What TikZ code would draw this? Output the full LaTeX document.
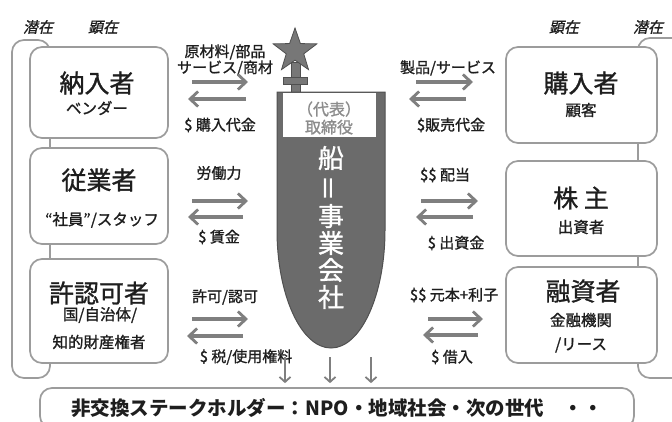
\documentclass[tikz,border=0pt]{standalone}
\usepackage{fontspec}
\newfontfamily\jp[FakeBold=1.2]{Noto Sans CJK JP}
\newfontfamily\jpplain{Noto Sans CJK JP}
\newfontfamily\jpslant[FakeSlant=0.22, FakeBold=0.8]{Noto Sans CJK JP}
\usetikzlibrary{arrows.meta, shapes.geometric, positioning}

\definecolor{ink}{HTML}{1E1E1E}
\definecolor{linegray}{HTML}{9C9C9C}
\definecolor{arrowgray}{HTML}{7F7F7F}
\definecolor{hull}{HTML}{6B6B6B}
\definecolor{hulledge}{HTML}{505050}
\definecolor{mastgray}{HTML}{777777}
\definecolor{boardgray}{HTML}{8C8C8C}

\begin{document}
\begin{tikzpicture}[x=1pt, y=-1pt,
  every node/.style={font=\jp, text=ink, inner sep=0pt},
  frame/.style={draw=linegray, line width=1.7pt, rounded corners=12pt},
  party/.style={frame, fill=white},
  title/.style={font=\jp\fontsize{25}{26}\selectfont},
  sub/.style={font=\jp\fontsize{15.5}{16}\selectfont},
  deal/.style={font=\jp\fontsize{15}{16}\selectfont},
  tag/.style={font=\jpslant\fontsize{15}{16}\selectfont},
  glyph/.style={font=\jp\fontsize{26}{27}\selectfont, text=white},
  flow/.style={draw=arrowgray, line width=3.2pt,
    -{Straight Barb[length=8pt, width=15pt, line width=2.8pt]}},
  drop/.style={draw=arrowgray, line width=2pt, shorten >=4pt,
    -{Straight Barb[length=5pt, width=11pt, line width=1.8pt]}}]
\useasboundingbox (0,0) rectangle (672,421);
\clip (0,0) rectangle (672,421);

% Latent brackets behind the boxes
\node[frame, minimum width=38, minimum height=338] (latentL) at (31,209) {};
\node[frame, minimum width=62, minimum height=340] (latentR) at (669,208) {};
\node[tag] (latL) at (38,27) {潜在};
\node[tag] (manL) at (103,27) {顕在};
\node[tag] (manR) at (564,27) {顕在};
\node[tag] (latR) at (648,27) {潜在};

% Stakeholder boxes, left
\node[party, minimum width=138, minimum height=91] (vendor) at (99,92.5) {};
\node[party, minimum width=138, minimum height=96] (staff) at (99,196) {};
\node[party, minimum width=138, minimum height=104] (licensor) at (99,311) {};
\node[title] (vendorT) at (97,83) {納入者};
\node[sub] (vendorS) at (97,108) {ベンダー};
\node[title] (staffT) at (99,180) {従業者};
\node[sub] (staffS) at (102,220) {“社員”/スタッフ};
\node[title] (licT) at (99,293) {許認可者};
\node[sub] (licS1) at (100,315) {国/自治体/};
\node[sub] (licS2) at (99,342) {知的財産権者};

% Stakeholder boxes, right
\node[party, minimum width=151, minimum height=96] (buyer) at (581.5,95) {};
\node[party, minimum width=151, minimum height=95] (holder) at (581.5,208.5) {};
\node[party, minimum width=151, minimum height=96] (lender) at (581.5,315) {};
\node[title] (buyerT) at (581,83) {購入者};
\node[sub] (buyerS) at (581,110) {顧客};
\node[title] (holderT) at (581,198) {株 主};
\node[sub] (holderS) at (581,227) {出資者};
\node[title] (lenderT) at (583,291) {融資者};
\node[sub] (lenderS1) at (581,320) {金融機関};
\node[sub] (lenderS2) at (581,345) {/リース};

% The ship: mast, flag star, hull
\draw[fill=mastgray, draw=hulledge, line width=0.8pt] (291,62) rectangle (300,93);
\draw[fill=mastgray, draw=hulledge, line width=0.8pt] (283,77) rectangle (307,84);
\node[star, star points=5, star point ratio=2.5, minimum size=46pt,
  fill=mastgray, draw=hulledge, line width=0.8pt] (flag) at (295,51) {};
\draw[fill=hull, draw=hulledge, line width=1pt] (277,92) -- (385,92) -- (385,230)
  arc[start angle=0, end angle=180, x radius=54, y radius=118] -- cycle;
\node[fill=white, minimum width=93, minimum height=44] (board) at (329,115) {};
\node[font=\jp\fontsize{16}{18}\selectfont, text=boardgray, align=center] (boardT)
  at (329,118) {（代表）\\取締役};

% Company name, written top to bottom
\node[glyph] (c1) at (331,158) {船};
\node[glyph] (c2) at (331,188) {\rotatebox[origin=c]{90}{＝}};
\node[glyph] (c3) at (331,216) {事};
\node[glyph] (c4) at (331,243) {業};
\node[glyph] (c5) at (331,270) {会};
\node[glyph] (c6) at (331,297) {社};

% Exchanges on the left
\node[deal, align=center] (goodsL) at (225,60) {原材料/部品\\サービス/商材};
\node[deal] (payL) at (220,125) {\$ 購入代金};
\node[deal] (labour) at (219,173) {労働力};
\node[deal] (wage) at (219,237) {\$ 賃金};
\node[deal] (permit) at (225,297) {許可/認可};
\node[deal] (tax) at (246,357) {\$ 税/使用権料};
\coordinate (l1a) at (192,82);  \coordinate (l1b) at (248,82);
\coordinate (l2a) at (246,99);  \coordinate (l2b) at (188,99);
\coordinate (l3a) at (192,201); \coordinate (l3b) at (248,201);
\coordinate (l4a) at (243,217); \coordinate (l4b) at (188,217);
\coordinate (l5a) at (192,319); \coordinate (l5b) at (248,319);
\coordinate (l6a) at (243,336); \coordinate (l6b) at (187,336);
\draw[flow] (l1a) -- (l1b);
\draw[flow] (l2a) -- (l2b);
\draw[flow] (l3a) -- (l3b);
\draw[flow] (l4a) -- (l4b);
\draw[flow] (l5a) -- (l5b);
\draw[flow] (l6a) -- (l6b);

% Exchanges on the right
\node[deal] (goodsR) at (448,68) {製品/サービス};
\node[deal] (payR) at (451,125) {\$販売代金};
\node[deal] (dividend) at (445,175) {\$\$ 配当};
\node[deal] (equity) at (456,243) {\$ 出資金};
\node[deal] (interest) at (454,295) {\$\$ 元本+利子};
\node[deal] (loan) at (452,357) {\$ 借入};
\coordinate (r1a) at (416,82);  \coordinate (r1b) at (473,82);
\coordinate (r2a) at (466,99);  \coordinate (r2b) at (409,99);
\coordinate (r3a) at (421,201); \coordinate (r3b) at (478,201);
\coordinate (r4a) at (473,217); \coordinate (r4b) at (416,217);
\coordinate (r5a) at (428,319); \coordinate (r5b) at (483,319);
\coordinate (r6a) at (478,335); \coordinate (r6b) at (423,335);
\draw[flow] (r1a) -- (r1b);
\draw[flow] (r2a) -- (r2b);
\draw[flow] (r3a) -- (r3b);
\draw[flow] (r4a) -- (r4b);
\draw[flow] (r5a) -- (r5b);
\draw[flow] (r6a) -- (r6b);

% Non-exchange stakeholders
\node[frame, fill=white, minimum width=594, minimum height=40,
  font=\jpplain\bfseries\fontsize{19.5}{20}\selectfont] (society) at (337,408)
  {非交換ステークホルダー：NPO・地域社会・次の世代　・・};
\coordinate (d1) at (285,357);
\coordinate (d2) at (330,357);
\coordinate (d3) at (371,357);
\draw[drop] (d1) -- (d1 |- society.north);
\draw[drop] (d2) -- (d2 |- society.north);
\draw[drop] (d3) -- (d3 |- society.north);
\end{tikzpicture}
\end{document}
